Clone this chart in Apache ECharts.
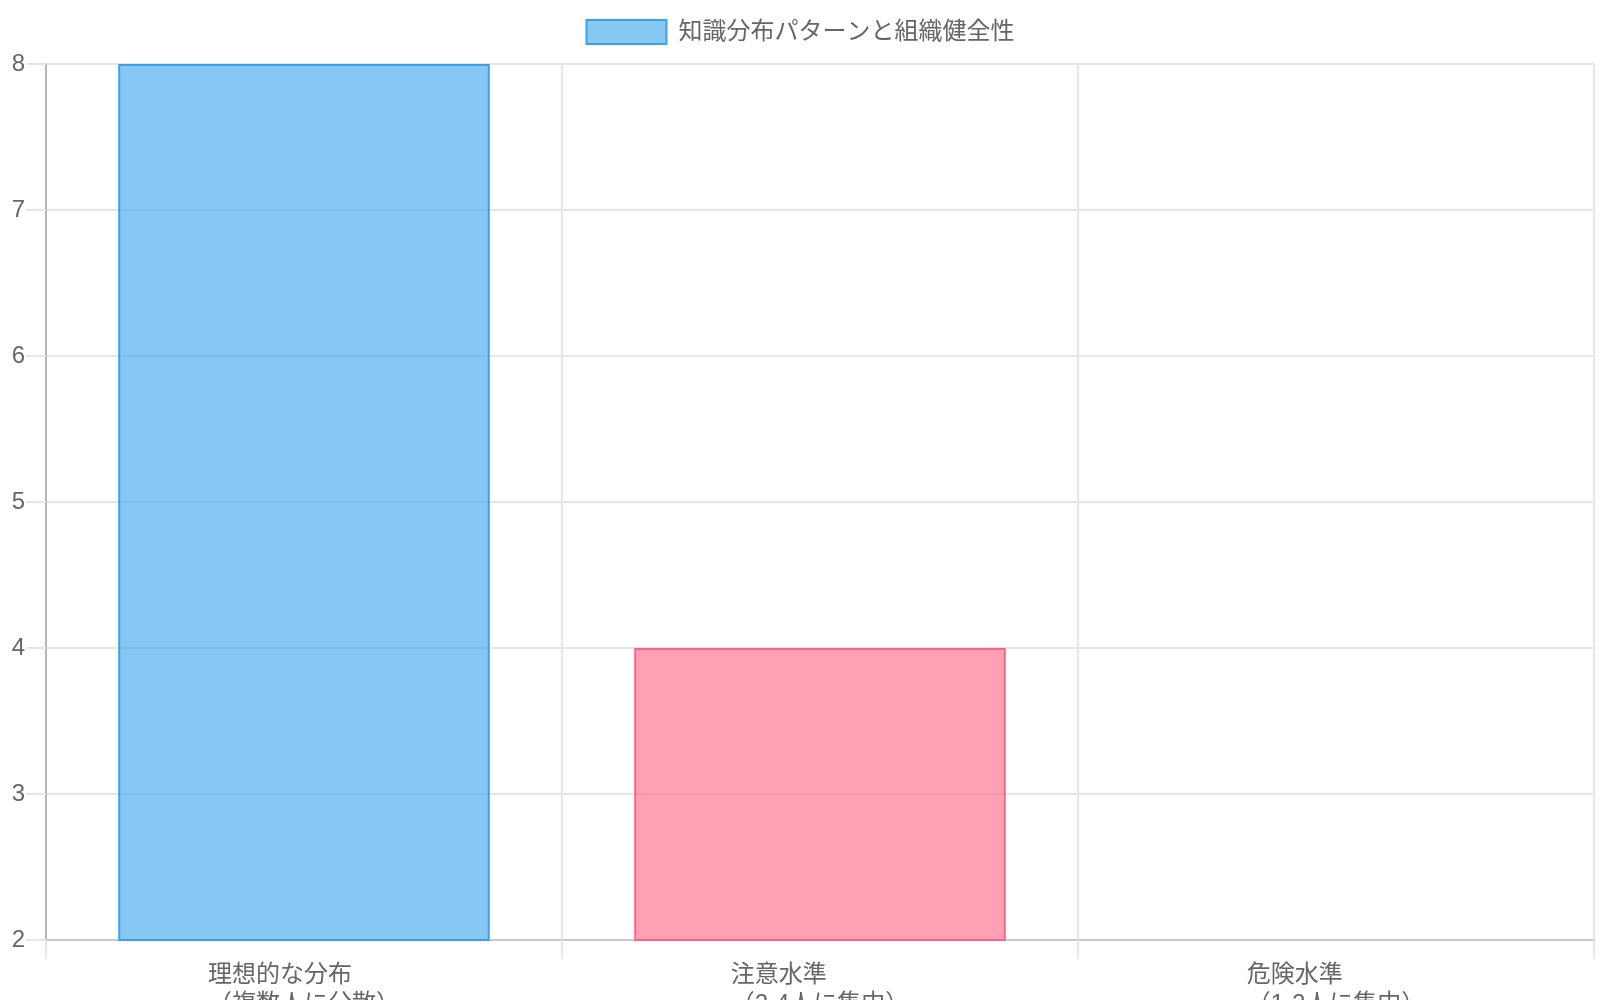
<!DOCTYPE html>
<html>
<head>
<meta charset="utf-8">
<script src="https://cdn.jsdelivr.net/npm/echarts@6/dist/echarts.min.js"></script>
<style>html,body{margin:0;padding:0;background:#fff}#c{width:1600px;height:1000px}</style>
</head>
<body>
<div id="c"></div>
<script>
const seriesName = '知識分布パターンと組織健全性';
const categories = [
  ['理想的な分布', '（複数人に分散）'],
  ['注意水準', '（2-4人に集中）'],
  ['危険水準', '（1-2人に集中）']
];
const values = [8, 4, 2];
const yTicks = { min: 2, max: 8, interval: 1 };

const fills = ['rgba(54,162,235,0.6)', 'rgba(255,99,132,0.6)', 'rgba(255,206,86,0.6)'];
const borders = ['rgb(54,162,235)', 'rgb(255,99,132)', 'rgb(255,206,86)'];
const FONT = "'Liberation Sans', Arial, 'Noto Sans CJK JP', sans-serif";
const GRID = '#e6e6e6';

const chart = echarts.init(document.getElementById('c'), null, { renderer: 'canvas' });
chart.setOption({
  animation: false,
  backgroundColor: '#fff',
  legend: {
    top: 14,
    left: 'center',
    itemWidth: 80,
    itemHeight: 24,
    icon: 'rect',
    data: [{ name: seriesName, itemStyle: { color: fills[0], borderColor: borders[0], borderWidth: 2 } }],
    textStyle: { fontSize: 24, color: '#666', fontFamily: FONT, padding: [0, 0, 0, 7] }
  },
  grid: { left: 46, right: 6, top: 64, bottom: 60, containLabel: false, outerBoundsMode: 'none' },
  xAxis: {
    type: 'category',
    data: categories.map(c => c.join('\n')),
    boundaryGap: true,
    axisLine: { show: true, lineStyle: { color: '#c8c8c8', width: 2 } },
    axisTick: { show: true, length: 19, lineStyle: { color: GRID, width: 2 } },
    splitLine: { show: true, lineStyle: { color: GRID, width: 2 } },
    axisLabel: {
      margin: 21,
      interval: 0,
      formatter: function (v) {
        return v.split('\n').map(s => '{a|' + s + '}').join('\n');
      },
      rich: {
        a: { align: 'left', fontSize: 24, lineHeight: 29, color: '#666', fontFamily: FONT }
      }
    }
  },
  yAxis: {
    type: 'value',
    min: yTicks.min,
    max: yTicks.max,
    interval: yTicks.interval,
    axisLine: { show: true, lineStyle: { color: '#b4b4b4', width: 2 } },
    axisTick: { show: true, length: 20, lineStyle: { color: GRID, width: 2 } },
    splitLine: { show: true, lineStyle: { color: GRID, width: 2 } },
    axisLabel: { margin: 21, fontSize: 24, color: '#666', fontFamily: FONT }
  },
  series: [{
    name: seriesName,
    type: 'bar',
    barWidth: '72%',
    itemStyle: { color: fills[0], borderColor: borders[0], borderWidth: 2 },
    data: values.map((v, i) => ({
      value: v,
      itemStyle: { color: fills[i], borderColor: borders[i], borderWidth: 2 }
    }))
  }]
});
</script>
</body>
</html>
